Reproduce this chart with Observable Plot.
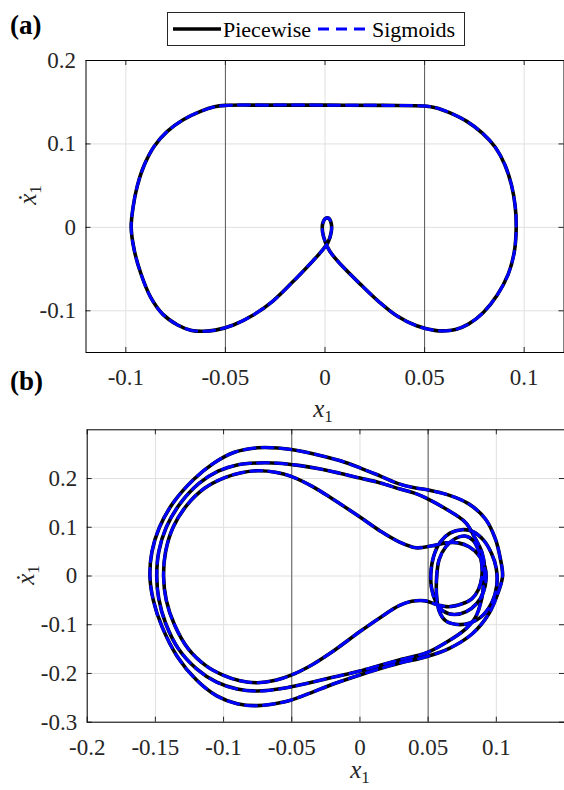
<!DOCTYPE html>
<html><head><meta charset="utf-8">
<script src="https://cdn.jsdelivr.net/npm/d3@7"></script>
<script src="https://cdn.jsdelivr.net/npm/@observablehq/plot@0.6"></script>
<style>
body{margin:0;background:#fff;}
#fig{position:relative;width:564px;height:790px;background:#fff;font-family:"Liberation Serif","Times New Roman",Times,"Nimbus Roman","Nimbus Roman No9 L",FreeSerif,"Noto Serif","DejaVu Serif",Tinos,serif;}
#fig svg{position:absolute;left:0;}
.plab{position:absolute;left:10px;font-weight:bold;font-size:27px;line-height:1;color:#000;}
</style></head><body><div id="fig"></div>
<script>
// ---------- data ----------
const seriesNames = ["Piecewise", "Sigmoids"];
const seriesColors = ["#000000", "#0000ff"];
const boundaries = [-0.05, 0.05];

const xTicksA = [-0.1, -0.05, 0, 0.05, 0.1];
const yTicksA = [-0.1, 0, 0.1, 0.2];
const xTicksB = [-0.2, -0.15, -0.1, -0.05, 0, 0.05, 0.1];
const yTicksB = [-0.3, -0.2, -0.1, 0, 0.1, 0.2];

// panel (a): trajectory [x1, dx1/dt]
const curveA = [
[-0.0973,0],[-0.0963,0.025],[-0.0942,0.05],[-0.0907,0.075],[-0.0858,0.097],[-0.0792,0.115],
[-0.0712,0.129],[-0.0625,0.139],[-0.0555,0.1445],[-0.05,0.1462],[-0.03,0.1465],[0,0.1465],
[0.03,0.1462],[0.05,0.1455],[0.0555,0.1435],[0.0625,0.1375],[0.0712,0.127],[0.079,0.113],
[0.0855,0.096],[0.0903,0.075],[0.0937,0.05],[0.0955,0.025],[0.096,0],[0.095,-0.03],
[0.092,-0.056],[0.0865,-0.081],[0.0795,-0.102],[0.072,-0.116],[0.0655,-0.1225],[0.061,-0.124],
[0.055,-0.1235],[0.046,-0.118],[0.036,-0.106],[0.027,-0.089],[0.0177,-0.068],[0.0077,-0.044],
[0.0025,-0.029],[0.0002,-0.018],[-0.0012,-0.006],[-0.0012,0.004],[0.0002,0.0105],[0.0018,0.011],
[0.0032,0.004],[0.0031,-0.006],[0.0015,-0.018],[-0.0015,-0.028],[-0.006,-0.04],[-0.014,-0.06],
[-0.026,-0.088],[-0.036,-0.105],[-0.046,-0.117],[-0.055,-0.1232],[-0.061,-0.1245],[-0.067,-0.1235],
[-0.074,-0.117],[-0.0815,-0.104],[-0.0875,-0.084],[-0.0925,-0.055],[-0.0958,-0.027]
];

// panel (b): three nested loops of the orbit
const bOuter = [
[-0.154,0],[-0.1525,0.05],[-0.147,0.1],[-0.137,0.15],[-0.122,0.198],[-0.107,0.232],[-0.092,0.254],
[-0.075,0.263],[-0.06,0.2625],[-0.045,0.257],[-0.03,0.248],[-0.015,0.237],[0,0.222],[0.015,0.205],
[0.0287,0.189],[0.04,0.181],[0.0493,0.177],[0.0652,0.166],[0.0798,0.148],[0.092,0.117],[0.0993,0.076],
[0.103,0.035],[0.1046,0],[0.1017,-0.031],[0.0944,-0.078],[0.0822,-0.119],[0.0652,-0.149],[0.0494,-0.165],
[0.0287,-0.179],[0.015,-0.19],[0,-0.203],[-0.02,-0.222],[-0.04,-0.244],[-0.055,-0.258],[-0.075,-0.266],
[-0.09,-0.262],[-0.105,-0.246],[-0.12,-0.213],[-0.134,-0.165],[-0.145,-0.105],[-0.1515,-0.05]
];
const bMiddle = [
[-0.149,0],[-0.1475,0.05],[-0.142,0.1],[-0.132,0.148],[-0.118,0.19],[-0.104,0.215],[-0.09,0.228],
[-0.075,0.232],[-0.06,0.2315],[-0.045,0.227],[-0.03,0.22],[-0.015,0.211],[0,0.201],[0.015,0.191],
[0.0287,0.179],[0.04,0.17],[0.0493,0.159],[0.0628,0.138],[0.0774,0.11],[0.0834,0.083],[0.0895,0.048],
[0.0915,0.014],[0.0907,-0.015],[0.0895,-0.044],[0.0847,-0.085],[0.0774,-0.109],[0.0652,-0.133],
[0.0494,-0.157],[0.0287,-0.1725],[0.015,-0.183],[0,-0.195],[-0.02,-0.208],[-0.04,-0.221],[-0.055,-0.23],
[-0.075,-0.236],[-0.09,-0.232],[-0.105,-0.218],[-0.12,-0.19],[-0.133,-0.15],[-0.1425,-0.097],[-0.1475,-0.047]
];
const bInner = [
[-0.144,0],[-0.1425,0.05],[-0.137,0.1],[-0.127,0.145],[-0.114,0.18],[-0.1,0.201],[-0.087,0.212],
[-0.075,0.216],[-0.062,0.213],[-0.05,0.204],[-0.035,0.184],[-0.02,0.158],[0,0.121],[0.015,0.092],
[0.0287,0.07],[0.041,0.058],[0.053,0.062],[0.063,0.068],
[0.072,0.068],[0.08,0.06],[0.087,0.043],[0.0915,0.02],[0.0925,-0.005],[0.0905,-0.033],[0.0855,-0.057],
[0.078,-0.073],[0.069,-0.079],[0.061,-0.072],[0.0555,-0.052],[0.0525,-0.025],[0.052,0.005],[0.054,0.04],
[0.059,0.07],[0.066,0.088],[0.075,0.095],[0.083,0.091],[0.0905,0.074],[0.0965,0.046],[0.1,0.015],
[0.1003,-0.02],[0.097,-0.053],[0.09,-0.081],[0.08,-0.097],[0.07,-0.099],[0.0625,-0.091],[0.058,-0.071],
[0.0562,-0.04],[0.0562,-0.005],[0.058,0.033],[0.063,0.06],[0.07,0.077],[0.077,0.082],[0.083,0.073],
[0.087,0.052],[0.0893,0.025],[0.0893,-0.003],[0.087,-0.027],[0.082,-0.047],[0.075,-0.057],[0.065,-0.063],
[0.0555,-0.058],[0.048,-0.051],[0.038,-0.052],[0.0287,-0.061],[0.015,-0.085],[0,-0.114],[-0.02,-0.155],
[-0.035,-0.182],[-0.05,-0.203],[-0.062,-0.214],[-0.075,-0.219],[-0.088,-0.215],[-0.1,-0.204],
[-0.113,-0.184],[-0.126,-0.149],[-0.136,-0.1],[-0.142,-0.05]
];

// ---------- tables ----------
const toRows = (arr, loop) => arr.map(p => ({x: p[0], y: p[1], loop}));
const rowsA = toRows(curveA, "a");
const rowsB = [...toRows(bOuter, "outer"), ...toRows(bMiddle, "middle"), ...toRows(bInner, "inner")];

const FONT = '"Liberation Serif","Times New Roman",Times,"Nimbus Roman","Nimbus Roman No9 L",FreeSerif,"Noto Serif","DejaVu Serif",Tinos,serif';
const fig = document.getElementById("fig");
const DASH = "11,7";

function panel({rows, xDomain, yDomain, xTicks, yTicks, height, mt, mb, ml, mr}) {
  const innerH = height - mt - mb, innerW = 564 - ml - mr;
  const fmt = d => String(d);
  return Plot.plot({
    width: 564, height, marginTop: mt, marginBottom: mb, marginLeft: ml, marginRight: mr,
    style: {fontFamily: FONT, fontSize: "23px", background: "transparent", overflow: "visible", color: "#262626"},
    x: {domain: xDomain, axis: null},
    y: {domain: yDomain, axis: null},
    marks: [
      Plot.ruleX(xTicks, {stroke: "#e0e0e0", strokeWidth: 1}),
      Plot.ruleY(yTicks, {stroke: "#e0e0e0", strokeWidth: 1}),
      Plot.ruleX(boundaries, {stroke: "#5a5a5a", strokeWidth: 1}),
      Plot.line(rows, {x: "x", y: "y", z: "loop", stroke: seriesColors[0], strokeWidth: 3.6, curve: "catmull-rom-closed"}),
      Plot.line(rows, {x: "x", y: "y", z: "loop", stroke: seriesColors[1], strokeWidth: 3, strokeDasharray: DASH, curve: "catmull-rom-closed"}),
      Plot.ruleX(xTicks, {insetTop: innerH - 5, stroke: "#262626"}),
      Plot.ruleX(xTicks, {insetBottom: innerH - 5, stroke: "#262626"}),
      Plot.ruleY(yTicks, {insetRight: innerW - 5, stroke: "#262626"}),
      Plot.ruleY(yTicks, {insetLeft: innerW - 5, stroke: "#262626"}),
      Plot.frame({stroke: "#000", strokeWidth: 1}),
      Plot.axisX({ticks: xTicks, tickSize: 0, tickPadding: 16, tickFormat: fmt, fontSize: 23, fontFamily: FONT, label: null}),
      Plot.axisY({ticks: yTicks, tickSize: 0, tickPadding: 10, tickFormat: fmt, fontSize: 23, fontFamily: FONT, label: null})
    ]
  });
}

function addLabels(svg, xl, yl) {
  const s = d3.select(svg);
  const tx = s.append("text").attr("x", xl[0]).attr("y", xl[1]).attr("text-anchor", "middle")
    .attr("dy", "0.35em").attr("font-size", 25).attr("fill", "#262626").attr("font-family", FONT);
  tx.append("tspan").attr("font-style", "italic").text("x");
  tx.append("tspan").attr("font-size", 17).attr("dy", "0.3em").text("1");
  const ty = s.append("text").attr("transform", `translate(${yl[0]},${yl[1]}) rotate(-90)`)
    .attr("text-anchor", "middle").attr("dy", "0.35em").attr("font-size", 25).attr("fill", "#262626")
    .attr("font-family", FONT);
  ty.append("tspan").attr("font-style", "italic").text("ẋ");
  ty.append("tspan").attr("font-size", 17).attr("dy", "0.3em").text("1");
}

const svgA = panel({rows: rowsA, xDomain: [-0.12, 0.12], yDomain: [-0.15, 0.2], xTicks: xTicksA, yTicks: yTicksA,
  height: 428, mt: 60, mb: 76, ml: 85.5, mr: 0.5});
svgA.style.top = "0px";
addLabels(svgA, [323, 408], [27, 195]);

const svgB = panel({rows: rowsB, xDomain: [-0.2, 0.15], yDomain: [-0.3, 0.3], xTicks: xTicksB, yTicks: yTicksB,
  height: 362, mt: 1.3, mb: 68.3, ml: 86.7, mr: 0});
svgB.style.top = "428px";
addLabels(svgB, [360, 341], [25, 147]);

fig.appendChild(svgA);
fig.appendChild(svgB);

// panel letters
[["(a)", 12], ["(b)", 368]].forEach(([t, top]) => {
  const d = document.createElement("div");
  d.className = "plab"; d.textContent = t; d.style.top = top + "px";
  fig.appendChild(d);
});

// legend
const leg = d3.select(fig).append("svg").attr("width", 300).attr("height", 36)
  .style("left", "166px").style("top", "11px");
leg.append("rect").attr("x", 1.5).attr("y", 1.5).attr("width", 297).attr("height", 33)
  .attr("fill", "#fff").attr("stroke", "#262626").attr("stroke-width", 1);
const items = [{x0: 7, x1: 55, tx: 57}, {x0: 152, x1: 204, tx: 206}];
seriesNames.forEach((name, i) => {
  leg.append("line").attr("x1", items[i].x0).attr("x2", items[i].x1).attr("y1", 18).attr("y2", 18)
    .attr("stroke", seriesColors[i]).attr("stroke-width", i ? 3 : 3.6)
    .attr("stroke-dasharray", i ? DASH : null);
  leg.append("text").attr("x", items[i].tx).attr("y", 18).attr("dy", "0.35em")
    .attr("font-size", 22).attr("fill", "#000").attr("font-family", FONT).text(name);
});
</script>
</body></html>
